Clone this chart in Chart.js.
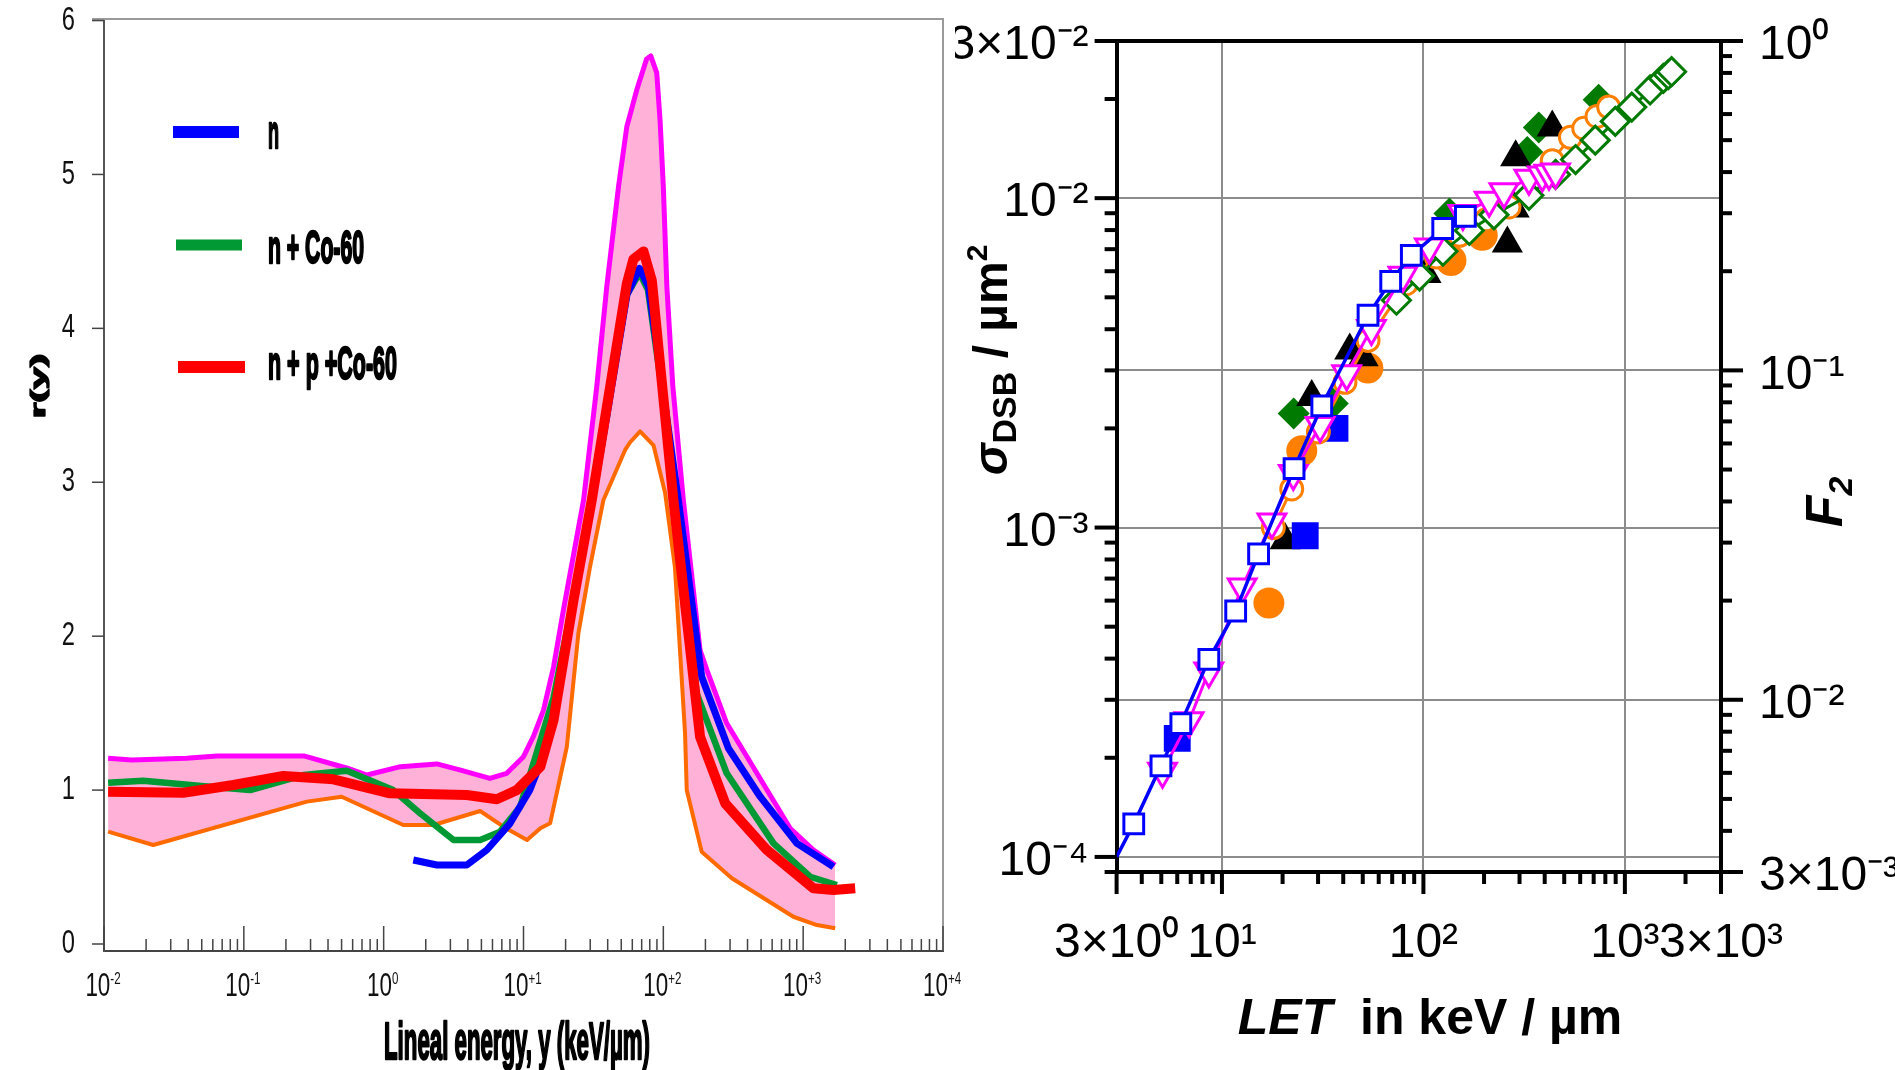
<!DOCTYPE html>
<html lang="en">
<head>
<meta charset="UTF-8">
<title>r(y) and sigma DSB vs LET</title>
<script src="https://cdn.jsdelivr.net/npm/chart.js"></script>
<style>
  html, body { margin: 0; padding: 0; background: #fff; }
  body { width: 1895px; height: 1070px; position: relative; overflow: hidden; }
  #left { position: absolute; left: 0; top: 0; }
  #right { position: absolute; left: 955px; top: 0; }
</style>
</head>
<body>
<canvas id="left" width="980" height="1070"></canvas>
<canvas id="right" width="940" height="1070"></canvas>
<script>
// ---------- left panel: r(y) against lineal energy ----------
const bandTopX = [0.0107, 0.0158, 0.0389, 0.0646, 0.269, 0.55, 0.759, 1.32, 2.40, 3.55, 5.75, 7.59, 10.0, 11.8, 13.9, 16.4, 19.3, 26.9, 33.4, 39.4, 47.8, 54.8, 64.6, 75.9, 81.3, 89.7, 94.8, 100, 106, 117, 139, 183, 205, 284, 467, 807, 1186, 1694];
const bandTopR = [1.207, 1.196, 1.207, 1.222, 1.222, 1.142, 1.098, 1.152, 1.17, 1.13, 1.076, 1.109, 1.217, 1.35, 1.52, 1.80, 2.17, 2.885, 3.62, 4.27, 4.92, 5.31, 5.55, 5.75, 5.77, 5.66, 5.35, 4.92, 4.27, 3.62, 2.885, 1.91, 1.78, 1.434, 1.109, 0.752, 0.611, 0.513];
const bandLowX = [0.0107, 0.0225, 0.282, 0.501, 1.38, 2.27, 4.90, 7.18, 10.6, 13.2, 15.5, 20.4, 24.7, 29.9, 37.3, 53.3, 57.9, 68.2, 85.1, 103, 121, 143, 147, 188, 309, 851, 1253, 1694];
const bandLowR = [0.73, 0.643, 0.925, 0.957, 0.773, 0.773, 0.864, 0.762, 0.676, 0.752, 0.784, 1.28, 2.02, 2.45, 2.885, 3.21, 3.26, 3.33, 3.24, 2.93, 2.45, 1.369, 1.0, 0.60, 0.427, 0.177, 0.123, 0.102];
const nX = [1.63, 2.40, 3.93, 5.46, 8.02, 11.1, 13.2, 16.4, 22.8, 30.9, 39.8, 55.0, 67.6, 78.3, 128, 188, 292, 493, 902, 1648];
const nR = [0.546, 0.513, 0.513, 0.611, 0.784, 1.0, 1.174, 1.477, 2.22, 2.87, 3.45, 4.22, 4.39, 4.27, 2.885, 1.737, 1.272, 0.957, 0.654, 0.502];
const nCoX = [0.0107, 0.0191, 0.0573, 0.111, 0.267, 0.545, 1.17, 1.82, 3.16, 4.90, 6.81, 9.46, 12.4, 16.4, 22.8, 30.9, 55.0, 67.6, 77.6, 126, 173, 284, 614, 1122, 1742];
const nCoR = [1.048, 1.061, 1.022, 1.0, 1.098, 1.126, 1.0, 0.849, 0.676, 0.676, 0.73, 0.892, 1.239, 1.60, 2.25, 2.88, 4.22, 4.36, 4.25, 2.885, 1.629, 1.109, 0.654, 0.437, 0.383];
const npCoX = [0.0107, 0.0369, 0.0841, 0.192, 0.437, 1.11, 3.93, 6.44, 8.95, 13.2, 16.4, 22.8, 30.8, 54.8, 61.1, 72.1, 82.8, 118, 183, 277, 550, 1186, 1648, 2355];
const npCoR = [0.99, 0.983, 1.033, 1.092, 1.07, 0.979, 0.968, 0.94, 1.0, 1.152, 1.455, 2.235, 2.885, 4.29, 4.45, 4.50, 4.31, 2.885, 1.347, 0.914, 0.611, 0.362, 0.351, 0.362];

const ryYTicks = [0, 1, 2, 3, 4, 5, 6];
const ryXTicks = [1e-2, 1e-1, 1e0, 1e1, 1e2, 1e3, 1e4];
const ryXExp = ['-2', '-1', '0', '+1', '+2', '+3', '+4'];

// ---------- right panel: sigma DSB against LET ----------
const fitLET = [3.0, 3.65, 4.98, 6.25, 8.61, 11.7, 15.2, 22.8, 31.3, 53.1, 68.8, 87.1, 124.7, 161.5];
const fitSigma = [1.0e-4, 1.26e-4, 1.89e-4, 2.54e-4, 3.98e-4, 5.58e-4, 8.32e-4, 1.51e-3, 2.34e-3, 4.41e-3, 5.59e-3, 6.70e-3, 8.09e-3, 8.81e-3];
const sqOpenLET = [3.65, 4.98, 6.25, 8.61, 11.7, 15.2, 22.8, 31.3, 53.1, 68.8, 87.1, 124.7, 161.5];
const sqOpenSigma = [1.26e-4, 1.89e-4, 2.54e-4, 3.98e-4, 5.58e-4, 8.32e-4, 1.51e-3, 2.34e-3, 4.41e-3, 5.59e-3, 6.70e-3, 8.09e-3, 8.81e-3];
const triDownLET = [5.07, 6.87, 8.61, 12.6, 17.7, 22.6, 30.7, 41.6, 55.2, 79.1, 107, 157, 212, 251, 334, 389, 420, 453];
const triDownSigma = [1.82e-4, 2.59e-4, 3.67e-4, 6.6e-4, 1.04e-3, 1.46e-3, 2.04e-3, 2.93e-3, 4.02e-3, 5.83e-3, 7.11e-3, 8.98e-3, 9.86e-3, 1.045e-2, 1.15e-2, 1.175e-2, 1.19e-2, 1.2e-2];
const circOpenLET = [18.0, 22.2, 30.1, 40.8, 53.1, 82.2, 116, 151, 205, 266, 436, 537, 625, 727, 831];
const circOpenSigma = [1.0e-3, 1.31e-3, 1.95e-3, 2.76e-3, 3.7e-3, 5.5e-3, 6.63e-3, 7.71e-3, 8.6e-3, 9.4e-3, 1.3e-2, 1.53e-2, 1.63e-2, 1.77e-2, 1.89e-2];
const diaOpenLET = [73.5, 95.7, 125, 169, 224, 334, 453, 569, 713, 896, 1082, 1334, 1552, 1642, 1706];
const diaOpenSigma = [4.9e-3, 5.8e-3, 6.9e-3, 7.98e-3, 8.9e-3, 1.02e-2, 1.18e-2, 1.31e-2, 1.5e-2, 1.71e-2, 1.89e-2, 2.13e-2, 2.31e-2, 2.37e-2, 2.42e-2];
const triFillLET = [20.6, 27.9, 43.1, 50.2, 103, 261, 282, 287, 436];
const triFillSigma = [9.15e-4, 2.49e-3, 3.45e-3, 3.29e-3, 5.89e-3, 7.28e-3, 9.3e-3, 1.33e-2, 1.64e-2];
const circFillLET = [17.1, 24.9, 53.0, 137, 196];
const circFillSigma = [5.9e-4, 1.71e-3, 3.05e-3, 6.47e-3, 7.71e-3];
const diaFillLET = [22.7, 35.5, 134.6, 328, 374, 741];
const diaFillSigma = [2.22e-3, 2.38e-3, 8.98e-3, 1.38e-2, 1.64e-2, 1.99e-2];
const sqFillLET = [6.0, 25.9, 36.4];
const sqFillSigma = [2.29e-4, 9.44e-4, 2.0e-3];

const letTicks = [3, 10, 100, 1000, 3000];
const letLabels = ['3×10⁰', '10¹', '10²', '10³', '3×10³'];
const sigmaTicks = [3e-2, 1e-2, 1e-3, 1e-4];
const sigmaLabels = ['3×10⁻²', '10⁻²', '10⁻³', '10⁻⁴'];
const f2Ticks = [1, 0.1, 0.01, 0.003];
const f2Labels = ['10⁰', '10⁻¹', '10⁻²', '3×10⁻³'];

const FONT = '"Liberation Sans", Arial, sans-serif';

function pts(xs, ys) { return xs.map((v, i) => ({ x: v, y: ys[i] })); }

function near(a, b) { return Math.abs(a - b) <= Math.abs(b) * 1e-6; }

// minor tick values m*10^e (m = 2..9) inside [min, max], majors left out
function logMinors(min, max, majors) {
  const out = [];
  for (let e = Math.floor(Math.log10(min)) - 1; e <= Math.ceil(Math.log10(max)); e++) {
    for (let m = 2; m <= 9; m++) {
      const v = parseFloat((m * Math.pow(10, e)).toPrecision(6));
      if (v >= min * 0.9999 && v <= max * 1.0001 && !majors.some(t => near(v, t))) out.push(v);
    }
  }
  return out;
}

// horizontally squeezed text; heavy = add a thin outline for a blacker face
function squeeze(ctx, text, x, y, font, sx, align, baseline, heavy) {
  ctx.save();
  ctx.font = font;
  ctx.textAlign = align || 'left';
  ctx.textBaseline = baseline || 'alphabetic';
  ctx.translate(x, y);
  ctx.scale(sx, 1);
  ctx.fillText(text, 0, 0);
  if (heavy) {
    ctx.strokeStyle = ctx.fillStyle;
    ctx.lineWidth = heavy;
    ctx.lineJoin = 'round';
    ctx.strokeText(text, 0, 0);
  }
  ctx.restore();
}

function textW(ctx, text, font) {
  ctx.save(); ctx.font = font;
  const w = ctx.measureText(text).width;
  ctx.restore();
  return w;
}

function seg(ctx, x1, y1, x2, y2) {
  ctx.beginPath(); ctx.moveTo(x1, y1); ctx.lineTo(x2, y2); ctx.stroke();
}

// runs of mixed-style text, centred on (x, y) along the writing direction
function drawRuns(ctx, runs, x, y, rotate) {
  ctx.save();
  ctx.translate(x, y);
  if (rotate) ctx.rotate(-Math.PI / 2);
  ctx.textAlign = 'left';
  ctx.textBaseline = 'alphabetic';
  ctx.fillStyle = '#000';
  let total = 0;
  runs.forEach(r => { ctx.font = r.font; r.w = ctx.measureText(r.t).width; total += r.w; });
  let cx = -total / 2;
  runs.forEach(r => { ctx.font = r.font; ctx.fillText(r.t, cx, r.dy || 0); cx += r.w; });
  ctx.restore();
}

const ryDecor = {
  id: 'ryDecor',
  afterDraw(chart) {
    const { ctx, chartArea: a } = chart;
    const x = chart.scales.x, y = chart.scales.y;
    ctx.save();
    ctx.lineCap = 'butt';
    // top and right frame
    ctx.strokeStyle = '#9a9a9a';
    ctx.lineWidth = 2;
    ctx.beginPath();
    ctx.moveTo(a.left - 12, a.top); ctx.lineTo(a.right, a.top); ctx.lineTo(a.right, a.bottom);
    ctx.stroke();
    // tick marks
    ctx.strokeStyle = '#444';
    ctx.lineWidth = 1.5;
    ryYTicks.forEach(v => { const p = y.getPixelForValue(v); seg(ctx, a.left - 12, p, a.left, p); });
    ryXTicks.forEach(v => { const p = x.getPixelForValue(v); seg(ctx, p, a.bottom, p, a.bottom - 25); });
    logMinors(1e-2, 1e4, ryXTicks).forEach(v => {
      const p = x.getPixelForValue(v); seg(ctx, p, a.bottom, p, a.bottom - 12);
    });
    // tick labels
    ctx.fillStyle = '#111';
    ryYTicks.forEach(v => {
      squeeze(ctx, String(v), a.left - 29, y.getPixelForValue(v), '33px ' + FONT, 0.72, 'right', 'middle');
    });
    const bigF = '33px ' + FONT, supF = '17px ' + FONT, sx = 0.68;
    ryXTicks.forEach((v, i) => {
      const p = x.getPixelForValue(v);
      const w1 = textW(ctx, '10', bigF) * sx, w2 = textW(ctx, ryXExp[i], supF) * sx;
      const start = p - (w1 + w2) / 2 - 1;
      squeeze(ctx, '10', start, 996, bigF, sx, 'left');
      squeeze(ctx, ryXExp[i], start + w1, 984, supF, sx, 'left');
    });
    // axis titles
    ctx.fillStyle = '#000';
    const tf = 'bold 51px ' + FONT;
    const title = 'Lineal energy, y (keV/µm)';
    squeeze(ctx, title, 517, 1059, tf, 266 / textW(ctx, title, tf), 'center', 'alphabetic', 2.5);
    ctx.save();
    ctx.translate(45, 386);
    ctx.rotate(-Math.PI / 2);
    ctx.scale(1, 0.52);
    ctx.font = 'bold 40px ' + FONT;
    ctx.textAlign = 'center';
    ctx.fillText('r(y)', 0, 0);
    ctx.strokeStyle = '#000'; ctx.lineWidth = 2.5; ctx.lineJoin = 'round';
    ctx.strokeText('r(y)', 0, 0);
    ctx.restore();
    // legend
    const legend = [
      { c: '#0000FF', y: 132, x1: 173, x2: 239, lw: 12, t: 'n', by: 148, w: 11 },
      { c: '#009933', y: 245, x1: 176, x2: 242, lw: 11, t: 'n + Co-60', by: 263, w: 96 },
      { c: '#FF0000', y: 367, x1: 178, x2: 245, lw: 12, t: 'n + p +Co-60', by: 379, w: 129 }
    ];
    const lf = 'bold 46px ' + FONT;
    legend.forEach(l => {
      ctx.strokeStyle = l.c; ctx.lineWidth = l.lw;
      seg(ctx, l.x1, l.y, l.x2, l.y);
      ctx.fillStyle = '#000';
      squeeze(ctx, l.t, 268, l.by, lf, l.w / textW(ctx, l.t, lf), 'left', 'alphabetic', 2.5);
    });
    ctx.restore();
  }
};

new Chart(document.getElementById('left'), {
  type: 'line',
  data: {
    datasets: [
      { label: 'n + p +Co-60', data: pts(npCoX, npCoR), borderColor: '#FF0000', borderWidth: 10, order: 0 },
      { label: 'n', data: pts(nX, nR), borderColor: '#0000FF', borderWidth: 7, order: 1 },
      { label: 'n + Co-60', data: pts(nCoX, nCoR), borderColor: '#009933', borderWidth: 6.5, order: 2 },
      { label: 'upper', data: pts(bandTopX, bandTopR), borderColor: '#FF00FF', borderWidth: 5,
        fill: '+1', backgroundColor: '#FFB1D8', order: 3 },
      { label: 'lower', data: pts(bandLowX, bandLowR), borderColor: '#FF6A00', borderWidth: 4, order: 4 }
    ]
  },
  options: {
    responsive: false,
    animation: false,
    devicePixelRatio: 1,
    layout: { padding: { top: 19, right: 37, left: 0, bottom: 0 } },
    elements: { point: { radius: 0 }, line: { tension: 0, borderJoinStyle: 'round', fill: false } },
    plugins: { legend: { display: false }, tooltip: { enabled: false }, filler: { drawTime: 'beforeDatasetsDraw' } },
    scales: {
      x: {
        type: 'logarithmic', min: 0.01, max: 10000,
        afterFit: s => { s.height = 119; s.paddingLeft = 0; s.paddingRight = 0; },
        grid: { display: false },
        border: { display: true, color: '#444', width: 2 },
        ticks: { display: false }
      },
      y: {
        type: 'linear', min: -0.0455, max: 6.01,
        afterFit: s => { s.width = 104; s.paddingTop = 0; s.paddingBottom = 0; },
        grid: { display: false },
        border: { display: true, color: '#555', width: 2 },
        ticks: { display: false }
      }
    }
  },
  plugins: [ryDecor]
});

// ---------- right panel chart ----------
const letMinor = logMinors(3, 3000, letTicks);
const sigmaMinor = logMinors(9e-5, 3e-2, sigmaTicks);
const f2Minor = logMinors(0.003, 1, f2Ticks);

function labelOf(ticks, labels) {
  return v => { const i = ticks.findIndex(t => near(v, t)); return i >= 0 ? labels[i] : ''; };
}
function gridOf(values) {
  return c => (c.tick && values.some(t => near(c.tick.value, t))) ? '#8c8c8c' : 'rgba(0,0,0,0)';
}
function setTicks(major, minor) {
  return s => { s.ticks = major.concat(minor).sort((p, q) => p - q).map(v => ({ value: v })); };
}

const dsbDecor = {
  id: 'dsbDecor',
  afterDraw(chart) {
    const { ctx, chartArea: a } = chart;
    const x = chart.scales.x, y = chart.scales.y, y2 = chart.scales.y2;
    ctx.save();
    ctx.strokeStyle = '#000';
    ctx.lineCap = 'butt';
    ctx.lineWidth = 4;
    seg(ctx, a.left - 2, a.top, a.right + 2, a.top);
    letTicks.forEach(v => { const p = x.getPixelForValue(v); seg(ctx, p, a.bottom, p, a.bottom + 22); });
    letMinor.forEach(v => { const p = x.getPixelForValue(v); seg(ctx, p, a.bottom, p, a.bottom + 12); });
    sigmaTicks.forEach(v => { const p = y.getPixelForValue(v); seg(ctx, a.left, p, a.left - 22, p); });
    sigmaMinor.forEach(v => { const p = y.getPixelForValue(v); seg(ctx, a.left, p, a.left - 12, p); });
    f2Ticks.forEach(v => { const p = y2.getPixelForValue(v); seg(ctx, a.right, p, a.right + 22, p); });
    f2Minor.forEach(v => { const p = y2.getPixelForValue(v); seg(ctx, a.right, p, a.right + 11, p); });
    ctx.restore();
    // titles
    drawRuns(ctx, [
      { t: 'σ', font: 'italic bold 48px ' + FONT },
      { t: 'DSB', font: 'bold 34px ' + FONT, dy: 9 },
      { t: ' / µm', font: 'bold 48px ' + FONT },
      { t: '2', font: 'bold 30px ' + FONT, dy: -20 }
    ], 52, 360, true);
    drawRuns(ctx, [
      { t: 'F', font: 'italic bold 52px ' + FONT },
      { t: '2', font: 'italic bold 34px ' + FONT, dy: 10 }
    ], 887, 502, true);
    drawRuns(ctx, [
      { t: 'LET', font: 'italic bold 50px ' + FONT },
      { t: '  in keV / µm', font: 'bold 50px ' + FONT }
    ], 475, 1034, false);
  }
};

new Chart(document.getElementById('right'), {
  type: 'scatter',
  data: {
    datasets: [
      { label: 'squares open', data: pts(sqOpenLET, sqOpenSigma), pointStyle: 'rect', pointRadius: 14,
        borderColor: '#0000FF', backgroundColor: '#FFFFFF', borderWidth: 3, order: 0 },
      { label: 'fit', data: pts(fitLET, fitSigma), showLine: true, pointRadius: 0,
        borderColor: '#0000FF', borderWidth: 3.5, order: 1 },
      { label: 'triangles down', data: pts(triDownLET, triDownSigma), showLine: true, pointStyle: 'triangle',
        pointRotation: 180, pointRadius: 16, borderColor: '#FF00FF', backgroundColor: '#FFFFFF', borderWidth: 3, order: 2 },
      { label: 'diamonds open', data: pts(diaOpenLET, diaOpenSigma), showLine: true, pointStyle: 'rectRot',
        pointRadius: 14, borderColor: '#007A00', backgroundColor: '#FFFFFF', borderWidth: 3, order: 3 },
      { label: 'circles open', data: pts(circOpenLET, circOpenSigma), showLine: true, pointStyle: 'circle',
        pointRadius: 11, borderColor: '#FF8000', backgroundColor: '#FFFFFF', borderWidth: 3, order: 4 },
      { label: 'squares filled', data: pts(sqFillLET, sqFillSigma), pointStyle: 'rect', pointRadius: 19,
        borderColor: '#0000FF', backgroundColor: '#0000FF', borderWidth: 0, order: 5 },
      { label: 'triangles filled', data: pts(triFillLET, triFillSigma), pointStyle: 'triangle', pointRadius: 18,
        borderColor: '#000000', backgroundColor: '#000000', borderWidth: 0, order: 6 },
      { label: 'diamonds filled', data: pts(diaFillLET, diaFillSigma), pointStyle: 'rectRot', pointRadius: 16,
        borderColor: '#007A00', backgroundColor: '#007A00', borderWidth: 0, order: 7 },
      { label: 'circles filled', data: pts(circFillLET, circFillSigma), pointStyle: 'circle', pointRadius: 15.5,
        borderColor: '#FF8000', backgroundColor: '#FF8000', borderWidth: 0, order: 8 }
    ]
  },
  options: {
    responsive: false,
    animation: false,
    devicePixelRatio: 1,
    layout: { padding: { top: 41, right: 0, left: 0, bottom: 0 } },
    elements: { line: { tension: 0, fill: false } },
    plugins: { legend: { display: false }, tooltip: { enabled: false } },
    scales: {
      x: {
        type: 'logarithmic', min: 3, max: 3000,
        afterBuildTicks: setTicks(letTicks, letMinor),
        afterFit: s => { s.height = 198; s.paddingLeft = 0; s.paddingRight = 0; },
        grid: { color: gridOf([10, 100, 1000]), lineWidth: 2, drawTicks: false },
        border: { display: true, color: '#000', width: 4 },
        ticks: { autoSkip: false, maxRotation: 0, padding: 43, color: '#000',
          font: { family: FONT, size: 48 }, callback: labelOf(letTicks, letLabels) }
      },
      y: {
        type: 'logarithmic', position: 'left', min: 9e-5, max: 3e-2,
        afterBuildTicks: setTicks(sigmaTicks, sigmaMinor),
        afterFit: s => { s.width = 161.6; s.paddingTop = 0; s.paddingBottom = 0; },
        grid: { color: gridOf([1e-4, 1e-3, 1e-2]), lineWidth: 2, drawTicks: false },
        border: { display: true, color: '#000', width: 4 },
        ticks: { autoSkip: false, padding: 28, labelOffset: 5, color: '#000',
          font: { family: FONT, size: 48 }, callback: labelOf(sigmaTicks, sigmaLabels) }
      },
      y2: {
        type: 'logarithmic', position: 'right', min: 0.003, max: 1,
        afterBuildTicks: setTicks(f2Ticks, f2Minor),
        afterFit: s => { s.width = 174; s.paddingTop = 0; s.paddingBottom = 0; },
        grid: { color: gridOf([0.01, 0.1]), lineWidth: 2, drawTicks: false, drawOnChartArea: true },
        border: { display: true, color: '#000', width: 4 },
        ticks: { autoSkip: false, padding: 38, labelOffset: 5, color: '#000',
          font: { family: FONT, size: 48 }, callback: labelOf(f2Ticks, f2Labels) }
      }
    }
  },
  plugins: [dsbDecor]
});
</script>
</body>
</html>
